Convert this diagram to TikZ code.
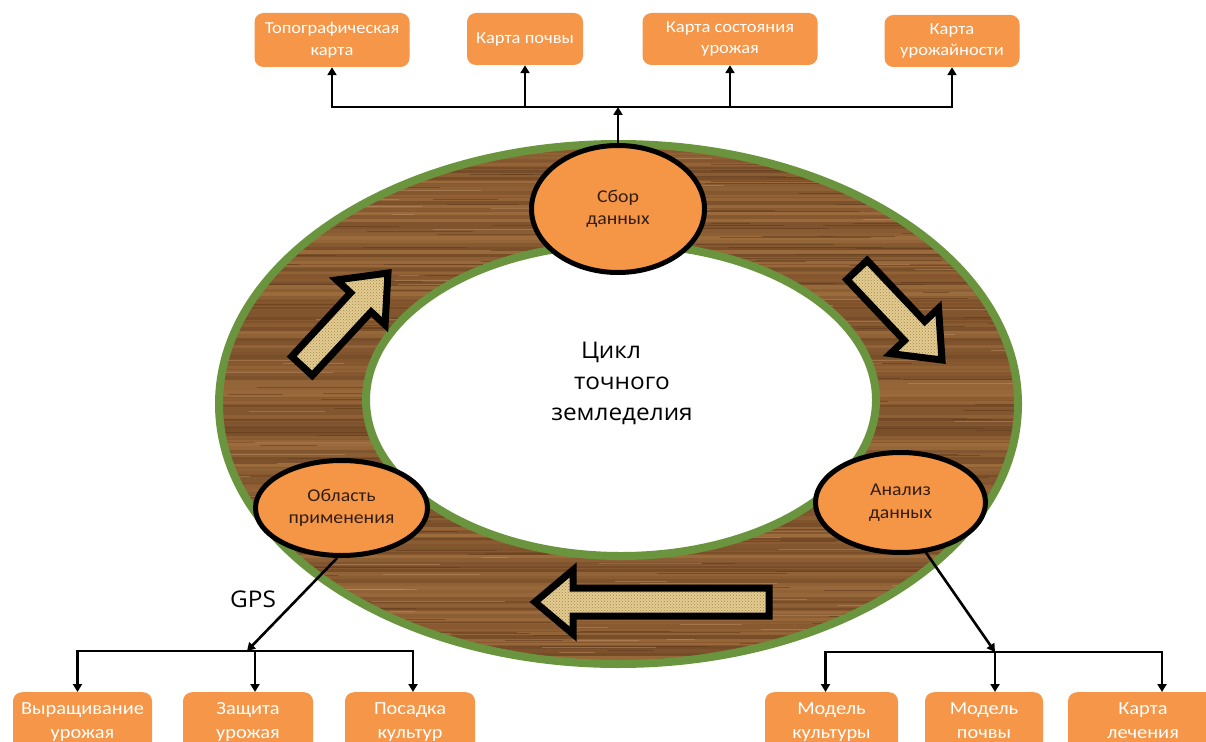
\documentclass[tikz,border=0pt]{standalone}
\usepackage{fontspec}
\setmainfont{Carlito}[FakeStretch=1.1]
\newfontfamily\osans{Open Sans}[FakeStretch=1.06]
\usetikzlibrary{shapes.geometric,arrows.meta,calc,patterns}
\definecolor{boxor}{RGB}{246,150,72}
\definecolor{ellor}{RGB}{245,150,70}
\definecolor{ringgreen}{RGB}{106,148,62}
\definecolor{woodA}{RGB}{138,88,46}
\definecolor{woodDark}{RGB}{96,58,28}
\definecolor{woodLight}{RGB}{176,124,72}
\definecolor{arrfill}{RGB}{226,204,148}
\definecolor{arrdot}{RGB}{168,134,62}
\definecolor{etext}{RGB}{50,30,20}
\tikzset{
  topbox/.style={rectangle, rounded corners=9pt, fill=boxor, text=white, inner sep=0pt, align=center, font=\fontsize{16.8}{21.5}\selectfont},
  botbox/.style={rectangle, rounded corners=9pt, fill=boxor, text=white, inner sep=0pt, align=center, anchor=north, minimum height=58pt, font=\fontsize{18.5}{24}\selectfont},
  stage/.style={ellipse, draw=black, line width=5pt, fill=ellor, text=etext, inner sep=0pt, align=center, font=\fontsize{18}{22.5}\selectfont},
  conn/.style={line width=2.6pt, draw=black},
  arr/.style={conn, -{Triangle[length=8pt,width=9pt]}},
  blockarr/.style={draw=black, line width=7pt, line join=miter, preaction={fill=arrfill}, pattern=crosshatch dots, pattern color=arrdot},
}
\begin{document}
\begin{tikzpicture}[x=1pt,y=-1pt]
\path[use as bounding box] (0,0) rectangle (1206,741);
\clip (0,0) rectangle (1206,741);
\fill[white] (0,0) rectangle (1206,741);
% wooden ring
\begin{scope}
  \clip (618.5,404) ellipse [x radius=399.5, y radius=260];
  \fill[woodA] (200,130) rectangle (1040,680);
  \pgfmathsetseed{4242}
  \foreach \yy in {140,143.5,...,672}{
    \pgfmathtruncatemacro\mixv{random(25,75)}
    \pgfmathsetmacro\lw{2.2+1.8*rnd}
    \draw[line width=\lw pt, woodDark!\mixv!woodLight] (200,\yy) -- (1040,\yy);
  }
  \foreach \k in {1,...,220}{
    \pgfmathsetmacro\gx{200+820*rnd}
    \pgfmathsetmacro\gy{140+530*rnd}
    \pgfmathsetmacro\gl{30+160*rnd}
    \draw[line width=1pt, woodDark, opacity=0.55] (\gx,\gy) -- ++(\gl,0);
  }
  \foreach \k in {1,...,120}{
    \pgfmathsetmacro\gx{200+820*rnd}
    \pgfmathsetmacro\gy{140+530*rnd}
    \pgfmathsetmacro\gl{20+120*rnd}
    \draw[line width=1pt, woodLight!80!white, opacity=0.45] (\gx,\gy) -- ++(\gl,0);
  }
\end{scope}
\draw[ringgreen, line width=8pt] (618.5,404) ellipse [x radius=399.5, y radius=260];
\draw[ringgreen, line width=8pt, fill=white] (621,400) ellipse [x radius=255, y radius=156];
% block arrows
\coordinate (a1t) at (388,273); \coordinate (a1s) at (302,366);
\coordinate (a1h) at ($(a1t)!40pt!(a1s)$);
\draw[blockarr] (a1t) -- ($(a1h)!33pt!90:(a1t)$) -- ($(a1h)!14pt!90:(a1t)$) -- ($(a1s)!14pt!90:(a1t)$) -- ($(a1s)!14pt!-90:(a1t)$) -- ($(a1h)!14pt!-90:(a1t)$) -- ($(a1h)!33pt!-90:(a1t)$) -- cycle;
\coordinate (a2t) at (942,360); \coordinate (a2s) at (857,270);
\coordinate (a2h) at ($(a2t)!40pt!(a2s)$);
\draw[blockarr] (a2t) -- ($(a2h)!33pt!90:(a2t)$) -- ($(a2h)!14pt!90:(a2t)$) -- ($(a2s)!14pt!90:(a2t)$) -- ($(a2s)!14pt!-90:(a2t)$) -- ($(a2h)!14pt!-90:(a2t)$) -- ($(a2h)!33pt!-90:(a2t)$) -- cycle;
\coordinate (a3t) at (535,602); \coordinate (a3s) at (769,602);
\coordinate (a3h) at ($(a3t)!38pt!(a3s)$);
\draw[blockarr] (a3t) -- ($(a3h)!32pt!90:(a3t)$) -- ($(a3h)!14pt!90:(a3t)$) -- ($(a3s)!14pt!90:(a3t)$) -- ($(a3s)!14pt!-90:(a3t)$) -- ($(a3h)!14pt!-90:(a3t)$) -- ($(a3h)!32pt!-90:(a3t)$) -- cycle;
% stages
\node[stage, minimum width=173pt, minimum height=127pt] (sbor) at (618,209) {Сбор\\данных};
\node[stage, minimum width=172pt, minimum height=95pt] (obl) at (341.5,508) {Область\\применения};
\node[stage, minimum width=170pt, minimum height=100pt] (anal) at (900.5,502.5) {Анализ\\данных};
\node[font=\osans\fontsize{23}{31}\selectfont, align=center] (title) at (622,383) {Цикл\hspace*{22pt}\\точного\\земледелия};
\node[font=\osans\fontsize{23}{26}\selectfont] (gps) at (253,599) {GPS};
% top boxes
\node[topbox, minimum width=155pt, minimum height=54pt] (t1) at (332,40) {Топографическая\\карта};
\node[topbox, minimum width=116pt, minimum height=52pt] (t2) at (525,39) {Карта почвы};
\node[topbox, minimum width=175pt, minimum height=52pt] (t3) at (730,39) {Карта состояния\\урожая};
\node[topbox, minimum width=135pt, minimum height=52pt] (t4) at (952,41) {Карта\\урожайности};
% bottom boxes
\node[botbox, minimum width=139pt] (l1) at (82.5,692) {Выращивание\strut\\урожая\strut};
\node[botbox, minimum width=130pt] (l2) at (248,692) {Защита\strut\\урожая\strut};
\node[botbox, minimum width=130pt] (l3) at (410,692) {Посадка\strut\\культур\strut};
\node[botbox, minimum width=133pt] (r1) at (831.5,692) {Модель\strut\\культуры\strut};
\node[botbox, minimum width=118pt] (r2) at (984,692) {Модель\strut\\почвы\strut};
\node[botbox, minimum width=150pt] (r3) at (1143,692) {Карта\strut\\лечения\strut};
% connectors top
\coordinate (tj) at (618,107);
\draw[arr] (tj) -| (t1.south);
\draw[arr] (tj) -| (t4.south);
\draw[arr] (t2.south |- tj) -- (t2.south);
\draw[arr] (t3.south |- tj) -- (t3.south);
\draw[arr] (sbor.north) -- (tj);
% connectors left
\coordinate (lj) at (247,651);
\coordinate (l1c) at ($(l1.north)+(-5,0)$);
\coordinate (l2c) at ($(l2.north)+(7,0)$);
\coordinate (l3c) at ($(l3.north)+(3,0)$);
\draw[arr] (obl.265) -- (lj);
\draw[arr] (lj) -| (l1c);
\draw[arr] (lj) -| (l3c);
\draw[arr] (l2c |- lj) -- (l2c);
% connectors right
\coordinate (rj) at (995,652);
\coordinate (r1c) at ($(r1.north)+(-6,0)$);
\coordinate (r2c) at ($(r2.north)+(11,0)$);
\coordinate (r3c) at ($(r3.north)+(19,0)$);
\draw[arr] (anal.297) -- (rj);
\draw[arr] (rj) -| (r1c);
\draw[arr] (rj) -| (r3c);
\draw[arr] (r2c |- rj) -- (r2c);
\end{tikzpicture}
\end{document}
